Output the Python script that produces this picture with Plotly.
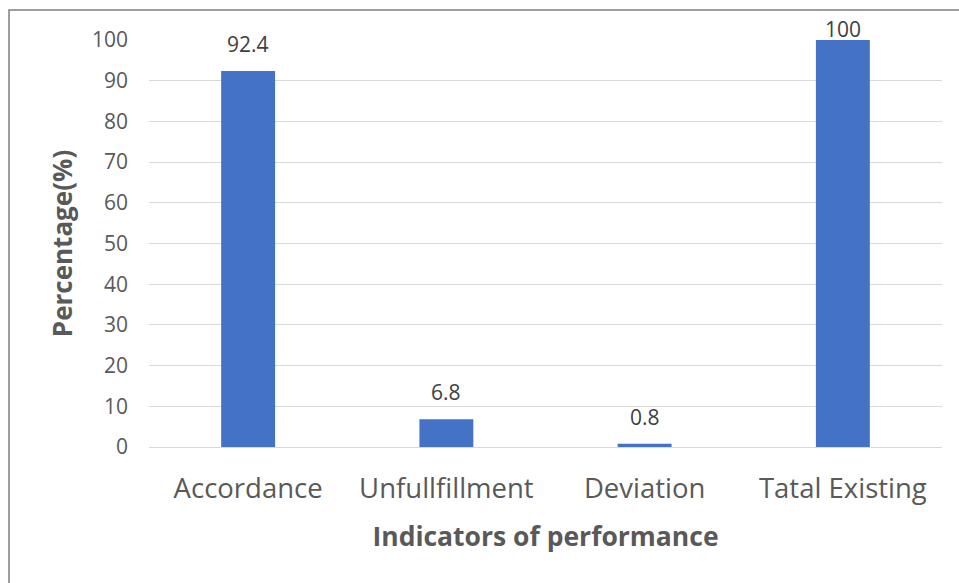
import plotly.graph_objects as go

categories = ["Accordance", "Unfullfillment", "Deviation", "Tatal Existing"]
values = [92.4, 6.8, 0.8, 100]
value_labels = ["92.4", "6.8", "0.8", "100"]
y_ticks = [0, 10, 20, 30, 40, 50, 60, 70, 80, 90, 100]

FONT = "Open Sans"
W, H = 959, 583
L, R, T, B = 149, 17, 40, 136
pw, ph = W - L - R, H - T - B

fig = go.Figure()
fig.add_trace(go.Bar(
    x=categories,
    y=values,
    marker=dict(color="#4472C4", line=dict(width=0)),
    hoverinfo="x+y",
))

# value labels sit above each bar; the one at the top of the axis is
# pulled down so it stays inside the chart frame
annotations = []
for cat, v, lab in zip(categories, values, value_labels):
    annotations.append(dict(
        x=cat, y=v, xref="x", yref="y", text=lab, showarrow=False,
        yanchor="bottom", yshift=11 if v < 100 else -5,
        font=dict(family=FONT, size=21, color="#404040"),
    ))

fig.update_layout(
    width=W, height=H,
    margin=dict(l=L, r=R, t=T, b=B),
    paper_bgcolor="white",
    plot_bgcolor="white",
    bargap=0.728,
    showlegend=False,
    font=dict(family=FONT, color="#595959"),
    annotations=annotations,
    xaxis=dict(
        showgrid=False,
        showline=False,
        tickfont=dict(family=FONT, size=27.5, color="#595959"),
        ticklabelstandoff=22,
        title=dict(text="<b>Indicators of performance</b>",
                   font=dict(family=FONT, size=26.5, color="#595959"),
                   standoff=22),
    ),
    yaxis=dict(
        range=[0, 100],
        tickvals=y_ticks,
        showgrid=True,
        gridcolor="#D9D9D9",
        gridwidth=1,
        zeroline=True,
        zerolinecolor="#D9D9D9",
        zerolinewidth=1,
        showline=False,
        tickfont=dict(family=FONT, size=21, color="#595959"),
        ticklabelstandoff=20,
        title=dict(text="<b>Percentage(%)</b>",
                   font=dict(family=FONT, size=26, color="#595959"),
                   standoff=11),
    ),
    shapes=[dict(
        type="rect", xref="paper", yref="paper",
        x0=(9 - L) / pw, x1=(975 - L) / pw,
        y0=-(B + 30) / ph, y1=1 + (T - 10) / ph,
        line=dict(color="#7F7F7F", width=1.5),
        fillcolor="rgba(0,0,0,0)", layer="below",
    )],
)

fig.write_html("out.html")
